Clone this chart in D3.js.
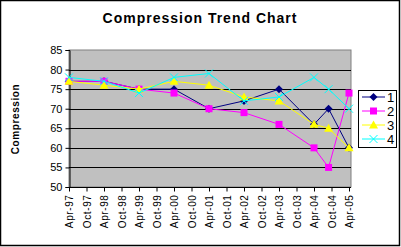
<!DOCTYPE html>
<html>
<head>
<meta charset="utf-8">
<script src="https://cdn.jsdelivr.net/npm/d3@7"></script>
<style>
  body { margin: 0; background: #fff; }
  text { font-family: "Liberation Sans", Arial, sans-serif; }
</style>
</head>
<body>
<div id="chart"></div>
<script>
// tick labels every 6 months, Apr-97 .. Apr-05
var tickLabels = ["Apr-97","Oct-97","Apr-98","Oct-98","Apr-99","Oct-99","Apr-00","Oct-00",
                  "Apr-01","Oct-01","Apr-02","Oct-02","Apr-03","Oct-03","Apr-04","Oct-04","Apr-05"];
// measurement dates, months after Apr-97
var months = [0, 12, 24, 36, 48, 60, 72, 84, 89, 96];
var series1 = [77, 77, 75, 75, 70, 72, 75, 66, 70, 60];
var series2 = [77, 77, 75, 74, 70, 69, 66, 60, 55, 74];
var series3 = [77, 76, 75, 77, 76, 73, 72, 66, 65, 60];
var series4 = [78, 77, 74, 78, 79, 72, 73, 78, 75, 70];
var seriesNames = ["1", "2", "3", "4"];
var yTicks = [50, 55, 60, 65, 70, 75, 80, 85];

var W = 401, H = 247;
var plot = {left: 69, top: 50, right: 351, bottom: 187};

var svg = d3.select("#chart").append("svg")
    .attr("width", W).attr("height", H);

// outer border
svg.append("rect")
    .attr("x", 0.5).attr("y", 0.5)
    .attr("width", W - 2).attr("height", H - 2)
    .attr("fill", "#fff").attr("stroke", "#000").attr("stroke-width", 1.5);

var x = d3.scaleLinear().domain([0, 96]).range([plot.left, 349]);
var y = d3.scaleLinear().domain([50, 85]).range([plot.bottom, plot.top]);

// plot area
svg.append("rect")
    .attr("x", plot.left).attr("y", plot.top)
    .attr("width", plot.right - plot.left).attr("height", plot.bottom - plot.top)
    .attr("fill", "#c0c0c0").attr("stroke", "#808080");

// gridlines
svg.append("g").selectAll("line")
    .data(yTicks.filter(function(d) { return d > 50 && d < 85; }))
    .enter().append("line")
    .attr("x1", plot.left).attr("x2", plot.right)
    .attr("y1", function(d) { return Math.round(y(d)) + 0.5; })
    .attr("y2", function(d) { return Math.round(y(d)) + 0.5; })
    .attr("stroke", "#000");

// y axis
var yAxis = svg.append("g")
    .attr("transform", "translate(" + (plot.left + 0.5) + ",0)")
    .call(d3.axisLeft(y).tickValues(yTicks).tickSize(4).tickPadding(3));
yAxis.selectAll("text").attr("font-size", 11).attr("fill", "#000")
    .attr("font-family", "'Liberation Sans', Arial, sans-serif");
yAxis.select(".domain").attr("stroke", "#000");

// x axis
var xAxis = svg.append("g")
    .attr("transform", "translate(0," + (plot.bottom + 0.5) + ")")
    .call(d3.axisBottom(x).tickValues(d3.range(0, 97, 6)).tickSize(4)
      .tickFormat(function(d, i) { return tickLabels[i]; }));
xAxis.select(".domain").attr("d", "M" + plot.left + ",0H" + plot.right).attr("stroke", "#000");
xAxis.selectAll("text")
    .attr("font-size", 10).attr("fill", "#000")
    .attr("font-family", "'Liberation Sans', Arial, sans-serif")
    .attr("letter-spacing", 0.6)
    .attr("transform", "rotate(-90)")
    .attr("text-anchor", "end")
    .attr("x", -7).attr("y", 0).attr("dy", "0.35em");

// series
var colors = ["#000080", "#ff00ff", "#ffff00", "#00ffff"];
var allSeries = [series1, series2, series3, series4];
var shapes = ["diamond", "square", "triangle", "cross"];

function marker(g, shape, color) {
  if (shape === "diamond") {
    g.append("path").attr("d", "M0,-4L4,0L0,4L-4,0Z").attr("fill", color);
  } else if (shape === "square") {
    g.append("rect").attr("x", -3.5).attr("y", -3.5).attr("width", 7).attr("height", 7).attr("fill", color);
  } else if (shape === "triangle") {
    g.append("path").attr("d", "M0,-4.5L4.5,3.5L-4.5,3.5Z").attr("fill", color);
  } else {
    g.append("path").attr("d", "M-4,-4L4,4M-4,4L4,-4").attr("stroke", color).attr("stroke-width", 1);
  }
}

var line = d3.line()
    .x(function(d) { return x(d[0]); })
    .y(function(d) { return y(d[1]); });

allSeries.forEach(function(vals, s) {
  var pts = vals.map(function(v, i) { return [months[i], v]; });
  var g = svg.append("g");
  g.append("path").datum(pts)
      .attr("d", line).attr("fill", "none")
      .attr("stroke", colors[s]).attr("stroke-width", 1);
  pts.forEach(function(p) {
    var m = g.append("g").attr("transform", "translate(" + x(p[0]) + "," + y(p[1]) + ")");
    marker(m, shapes[s], colors[s]);
  });
});

// legend
var legend = svg.append("g");
legend.append("rect")
    .attr("x", 358.5).attr("y", 90.5).attr("width", 38).attr("height", 57)
    .attr("fill", "#fff").attr("stroke", "#000");
seriesNames.forEach(function(name, s) {
  var ly = 97 + s * 14;
  legend.append("line").attr("x1", 362).attr("x2", 385).attr("y1", ly).attr("y2", ly)
      .attr("stroke", colors[s]);
  var m = legend.append("g").attr("transform", "translate(373.5," + ly + ")");
  marker(m, shapes[s], colors[s]);
  legend.append("text").attr("x", 387).attr("y", ly).attr("dy", "0.35em")
      .attr("font-size", 13).text(name);
});

// titles
svg.append("text")
    .attr("x", 200).attr("y", 23)
    .attr("text-anchor", "middle")
    .attr("font-size", 14).attr("font-weight", "bold")
    .attr("letter-spacing", 1)
    .text("Compression Trend Chart");

svg.append("text")
    .attr("transform", "translate(19,119) rotate(-90)")
    .attr("text-anchor", "middle")
    .attr("font-size", 10).attr("font-weight", "bold")
    .attr("letter-spacing", 0.6)
    .text("Compression");
</script>
</body>
</html>
